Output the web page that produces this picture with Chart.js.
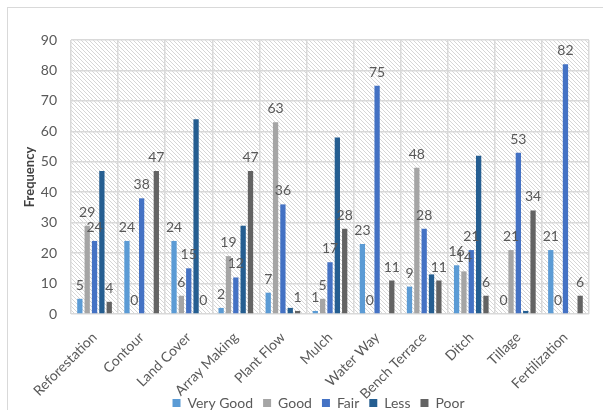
<!DOCTYPE html>
<html><head><meta charset="utf-8">
<script src="https://cdn.jsdelivr.net/npm/chart.js@4"></script>
<style>
html,body{margin:0;padding:0;background:#fff;width:603px;height:410px;overflow:hidden}
#frame{position:absolute;left:7px;top:7px;width:620px;height:420px;border:1px solid #d9d9d9;box-sizing:border-box}
#wrap{position:absolute;left:0;top:0;width:603px;height:410px}
</style></head><body>
<div id="frame"></div>
<div id="wrap"><canvas id="c" width="603" height="410"></canvas></div>
<script>
const categories = ['Reforestation','Contour','Land Cover','Array Making','Plant Flow','Mulch','Water Way','Bench Terrace','Ditch','Tillage','Fertilization'];
const seriesNames = ['Very Good','Good','Fair','Less','Poor'];
const veryGood = [5,24,24,2,7,1,23,9,16,0,21];
const good     = [29,0,6,19,63,5,0,48,14,21,0];
const fair     = [24,38,15,12,36,17,75,28,21,53,82];
const less     = [47,0,64,29,2,58,0,13,52,1,0];
const poor     = [4,47,0,47,1,28,11,11,6,34,6];
const yTicks = [0,10,20,30,40,50,60,70,80,90];
const colors = ['#5B9BD5','#A5A5A5','#4472C4','#255E91','#636363'];
const labelled = [true,true,true,false,true];

const FONT = 'Lato, "Open Sans", sans-serif';
const TEXT = '#595959';

const hatch = {
  id:'hatch',
  beforeDraw(chart){
    const {ctx, chartArea:a} = chart;
    ctx.save();
    ctx.beginPath(); ctx.rect(a.left,a.top,a.right-a.left,a.bottom-a.top); ctx.clip();
    ctx.fillStyle='#fff'; ctx.fillRect(a.left,a.top,a.right-a.left,a.bottom-a.top);
    ctx.strokeStyle='#d6d6d6'; ctx.lineWidth=1;
    const h=a.bottom-a.top;
    ctx.beginPath();
    for(let x=a.left-h; x<a.right; x+=4){
      ctx.moveTo(x, a.top); ctx.lineTo(x+h, a.bottom);
    }
    ctx.stroke();
    ctx.restore();
  }
};

const valueLabels = {
  id:'valueLabels',
  afterDatasetsDraw(chart){
    const ctx=chart.ctx;
    ctx.save();
    ctx.font='14px '+FONT;
    ctx.fillStyle=TEXT;
    ctx.textAlign='center';
    ctx.textBaseline='alphabetic';
    chart.data.datasets.forEach((ds,i)=>{
      if(!labelled[i]) return;
      const meta=chart.getDatasetMeta(i);
      meta.data.forEach((bar,j)=>{
        ctx.fillText(String(ds.data[j]), bar.x, bar.y-9);
      });
    });
    ctx.restore();
  }
};

const legendFit = {
  id:'legendFit',
  beforeInit(chart){
    const orig=chart.legend.fit;
    chart.legend.fit=function(){ orig.call(this); this.height=24; };
  },
  afterLayout(chart){
    chart.legend.left += 48;
  }
};

const data = {
  labels: categories,
  datasets: [veryGood,good,fair,less,poor].map((d,i)=>({
    label: seriesNames[i], data: d, backgroundColor: colors[i], borderWidth:0,
    categoryPercentage:0.78, barPercentage:0.72
  }))
};

new Chart(document.getElementById('c'), {
  type:'bar',
  data,
  plugins:[hatch,valueLabels,legendFit],
  options:{
    responsive:false, animation:false, devicePixelRatio:1,
    layout:{padding:{top:40,right:14,left:0,bottom:0}},
    plugins:{
      tooltip:{enabled:false},
      legend:{position:'bottom',
        labels:{boxWidth:8,boxHeight:8,padding:10,color:TEXT,font:{family:FONT,size:14}}}
    },
    scales:{
      x:{
        grid:{color:'#d9d9d9',lineWidth:1.5,offset:true,drawTicks:false},
        border:{display:false},
        ticks:{color:TEXT,font:{family:FONT,size:14},maxRotation:45,minRotation:45,autoSkip:false,padding:15},
        afterFit(s){ s.height=72; s._computeLabelArea = function(){ return undefined; }; }
      },
      y:{
        min:0,max:90,
        afterBuildTicks(s){ s.ticks = yTicks.map(v=>({value:v})); },
        grid:{color:'#d9d9d9',lineWidth:1.5,drawTicks:false},
        border:{display:false},
        ticks:{color:TEXT,font:{family:FONT,size:14},padding:14},
        title:{display:true,text:'Frequency',color:'#404040',font:{family:FONT,size:13,weight:'bold'},padding:{top:22,bottom:0}},
        afterFit(s){ s.width=71; }
      }
    }
  }
});
</script>
</body></html>
